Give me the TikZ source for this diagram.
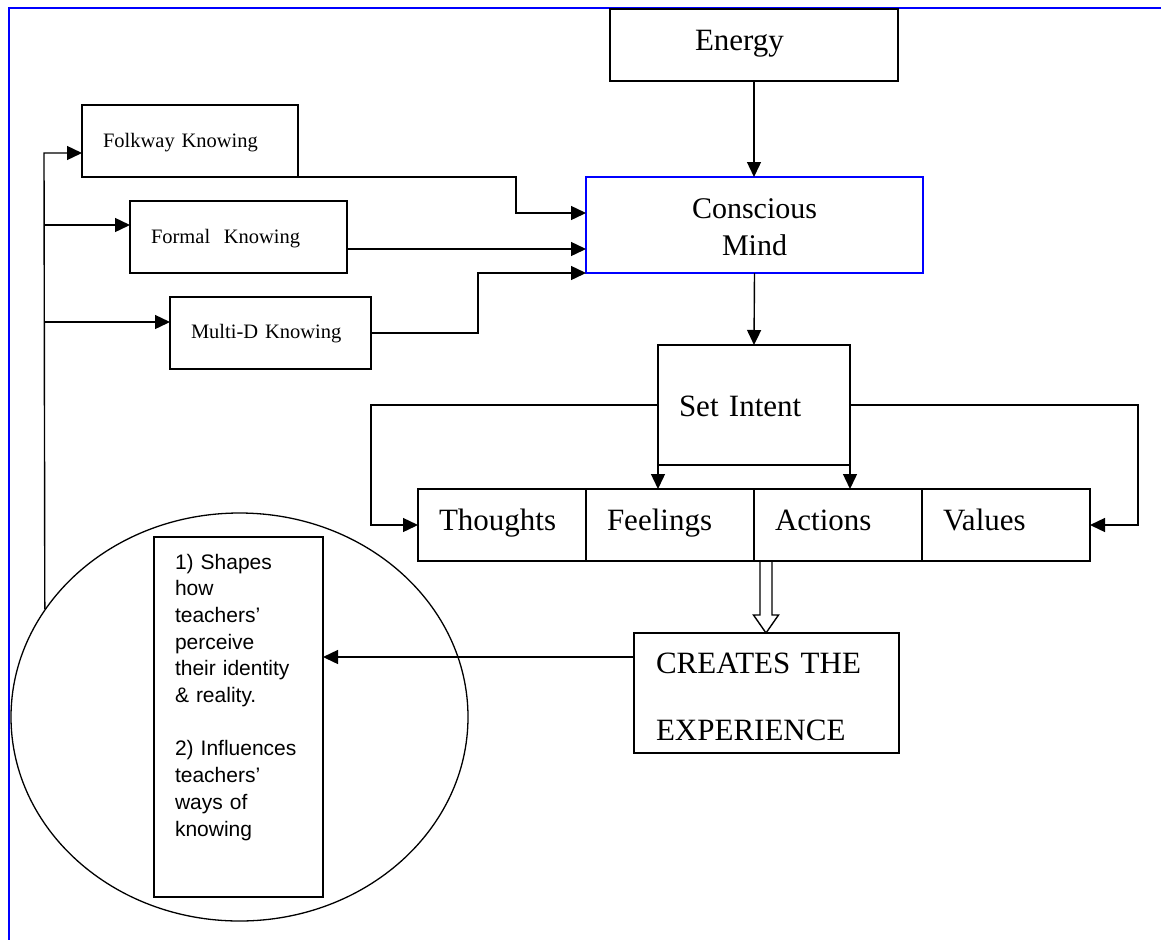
\documentclass[tikz,border=0pt]{standalone}
\usepackage{fontspec}
\setmainfont{Liberation Serif}
\newfontfamily\arialfont{Liberation Sans}
\usetikzlibrary{arrows.meta,positioning,shapes.geometric,calc}

\begin{document}
\begin{tikzpicture}[x=1pt,y=-1pt]
\tikzstyle{rect}=[rectangle, draw=black, line width=1.8pt, inner xsep=21pt, inner ysep=0pt, outer sep=0pt, align=left]
\tikzstyle{big}=[rect, font=\fontsize{31}{37}\selectfont, minimum height=72pt, text height=41pt, text depth=31pt]
\tikzstyle{know}=[rect, font=\fontsize{20.5}{25}\selectfont, minimum height=72pt, text height=42pt, text depth=30pt]
\tikzstyle{cell}=[big, minimum width=168pt, text width=126pt]
\tikzstyle{connect}=[-{Triangle[length=15pt,width=14pt]}, line width=1.4pt]
\tikzstyle{hollow}=[draw=black, line width=1.4pt]

  \useasboundingbox (0,0) rectangle (1161,940);
  \draw[blue, line width=1.6pt] (1161,8) -- (9,8) -- (9,940);

  % top of the chain
  \node[big, minimum width=288pt, text width=118pt, inner xsep=85pt] (energy) at (754,45) {Energy};
  \node[rect, draw=blue, font=\fontsize{30}{37}\selectfont, minimum width=337pt, minimum height=96pt,
        text width=295pt, text height=41pt, text depth=55pt, align=center] (mind) at (754.5,225) {Conscious\\Mind};

  % ways of knowing
  \node[know, minimum width=216pt, text width=174pt] (folk)   at (190,141)   {Folkway Knowing};
  \node[know, minimum width=217pt, text width=175pt] (formal) at (238.5,237) {Formal\ \ Knowing};
  \node[know, minimum width=201pt, text width=159pt, text height=41pt, text depth=31pt] (multid) at (270.5,333) {Multi-D Knowing};

  \node[big, minimum width=192pt, minimum height=120pt, text width=150pt, text height=71pt, text depth=49pt] (intent) at (754,405) {Set Intent};

  \node[cell] (thoughts) at (502,525)             {Thoughts};
  \node[cell] (feelings) [right=0pt of thoughts] {Feelings};
  \node[cell] (actions)  [right=0pt of feelings] {Actions};
  \node[cell] (values)   [right=0pt of actions]  {Values};

  \node[big, minimum width=265pt, minimum height=120pt, text width=221pt, inner xsep=22pt,
        text height=40pt, text depth=80pt, font=\fontsize{31}{67}\selectfont] (creates) at (766.5,693) {CREATES THE\\EXPERIENCE};

  % the effects
  \node[draw, ellipse, line width=1.3pt, minimum width=457pt, minimum height=408pt, inner sep=0pt] (circ) at (239.5,717) {};
  \node[rect, anchor=north west, font=\arialfont\fontsize{21}{26.7}\selectfont, minimum width=169pt,
        text width=127pt, text height=32pt, text depth=328pt] (effects) at (154,537)
        {1) Shapes\\how\\teachers’\\perceive\\their identity\\\& reality.\\[26.7pt]2) Influences\\teachers’\\ways of\\knowing};

  % connectors
  \coordinate (trunk) at (44,153);
  \coordinate (b2) at (44,225);
  \coordinate (b3) at (44,322);
  \draw[connect] (circ.151.5) -- (trunk) -- ($(folk.west)+(0,12)$);
  \draw[connect] (b2) -- (b2 -| formal.west);
  \draw[connect] (b3) -- (b3 -| multid.west);

  \draw[connect] ($(folk.south east)+(-72,0)$) -- (516,177) |- ($(mind.west)+(0,-12)$);
  \draw[connect] ($(formal.east)+(0,12)$) -- ($(mind.west)+(0,24)$);
  \draw[connect] (multid.east) -- (478,333) |- (mind.south west);

  \draw[connect] (energy.south) -- (energy.south |- mind.north);
  \draw[connect] (mind.south) -- (intent.north);
  \draw[connect] (intent.south west) -- (intent.south west |- feelings.north);
  \draw[connect] (intent.south east) -- (intent.south east |- actions.north);
  \draw[connect] (intent.west) -- (371,405) |- (thoughts.west);
  \draw[connect] (intent.east) -- (1138,405) |- (values.east);

  \coordinate (ha) at ($(actions.south west)+(12,0)$);
  \coordinate (hb) at (ha |- creates.north);
  \draw[hollow] ($(ha)+(-6,0)$) -- ($(hb)+(-6,-18)$) -- ($(hb)+(-12.5,-18)$) -- (hb)
        -- ($(hb)+(12.5,-18)$) -- ($(hb)+(6,-18)$) -- ($(ha)+(6,0)$);

  \path ($(creates.west)+(0,-36)$) coordinate (c5);
  \draw[connect] (c5) -- (c5 -| effects.east);

\end{tikzpicture}
\end{document}
